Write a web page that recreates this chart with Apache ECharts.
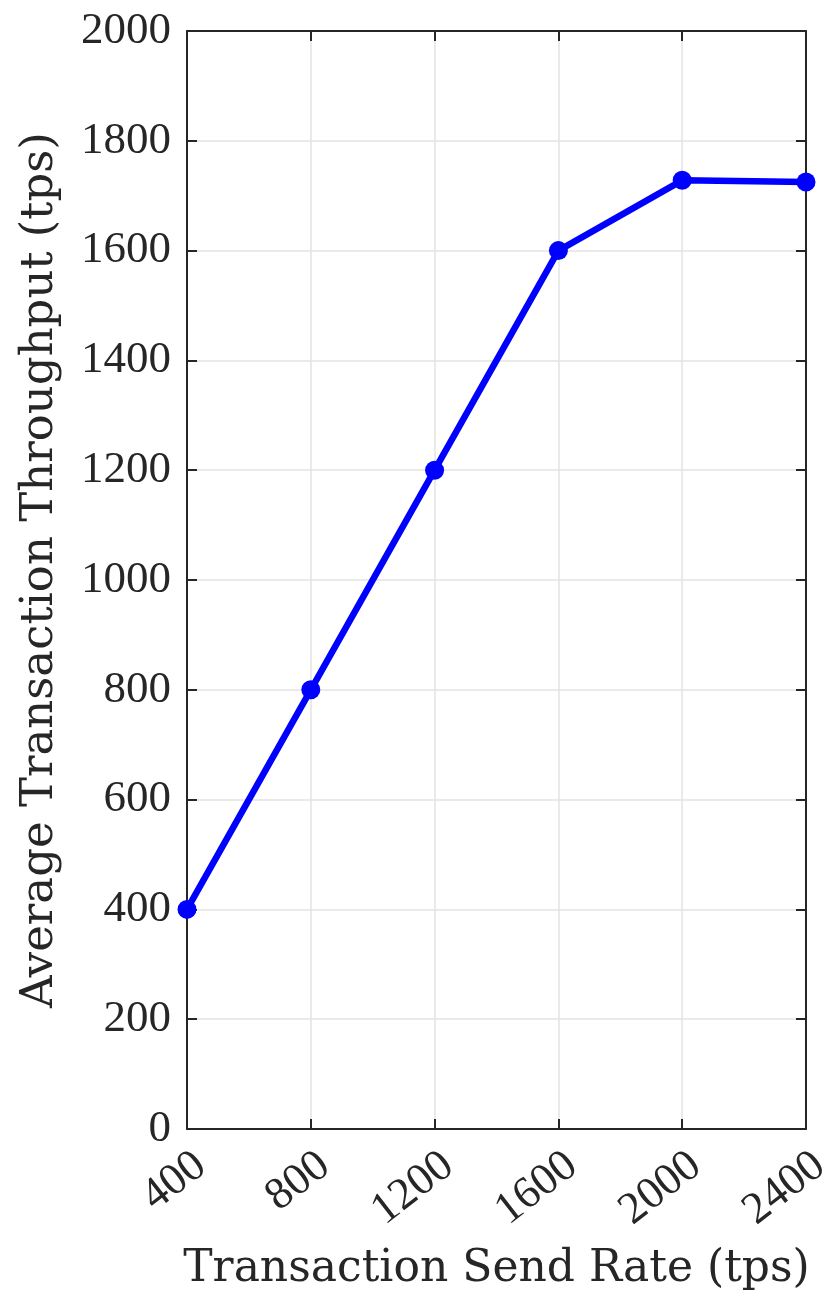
<!DOCTYPE html>
<html>
<head>
<meta charset="utf-8">
<script src="https://cdn.jsdelivr.net/npm/echarts@6/dist/echarts.min.js"></script>
<style>
html,body{margin:0;padding:0;background:#fff;overflow:hidden;}
#chart{width:829px;height:1316px;}
</style>
</head>
<body>
<div id="chart"></div>
<script>
const sendRate = [400, 800, 1200, 1600, 2000, 2400];
const throughput = [400, 800, 1200, 1600, 1728, 1725];
const xTicks = [400, 800, 1200, 1600, 2000, 2400];
const yTicks = [0, 200, 400, 600, 800, 1000, 1200, 1400, 1600, 1800, 2000];

const FONT = '"Liberation Serif", "DejaVu Serif", serif';
const TFONT = '"DejaVu Serif", "Liberation Serif", serif';
const AX = '#262626';
const GRID = '#e3e3e3';

const chart = echarts.init(document.getElementById('chart'), null, {renderer: 'canvas', width: 829, height: 1316});

const common = {
  axisLine: {show: true, onZero: false, lineStyle: {color: AX, width: 2}},
  axisTick: {show: true, inside: true, length: 10, lineStyle: {color: AX, width: 2}},
};
const plain = v => String(v);

chart.setOption({
  backgroundColor: '#fff',
  animation: false,
  grid: {left: 187, right: 23, top: 31, bottom: 187, containLabel: false, outerBoundsMode: 'none'},
  xAxis: [
    Object.assign({
      type: 'value', position: 'bottom',
      min: xTicks[0], max: xTicks[xTicks.length - 1], interval: 400,
      name: 'Transaction Send Rate (tps)', nameLocation: 'middle', nameGap: 119,
      nameTextStyle: {fontFamily: TFONT, fontSize: 44, color: AX},
      axisLabel: {rotate: 38, margin: 14, align: 'right', verticalAlign: 'top',
        fontFamily: FONT, fontSize: 45, color: AX, formatter: plain},
      splitLine: {show: true, lineStyle: {color: GRID, width: 1.5}}
    }, common),
    Object.assign({
      type: 'value', position: 'top',
      min: xTicks[0], max: xTicks[xTicks.length - 1], interval: 400,
      axisLabel: {show: false}, splitLine: {show: false}
    }, common)
  ],
  yAxis: [
    Object.assign({
      type: 'value', position: 'left',
      min: yTicks[0], max: yTicks[yTicks.length - 1], interval: 200,
      name: 'Average Transaction Throughput (tps)', nameLocation: 'middle', nameGap: 124,
      nameTextStyle: {fontFamily: TFONT, fontSize: 45, color: AX, padding: [0, 0, 0, 20]},
      axisLabel: {margin: 16, fontFamily: FONT, fontSize: 45, color: AX, formatter: plain},
      splitLine: {show: true, lineStyle: {color: GRID, width: 1.5}}
    }, common),
    Object.assign({
      type: 'value', position: 'right',
      min: yTicks[0], max: yTicks[yTicks.length - 1], interval: 200,
      axisLabel: {show: false}, splitLine: {show: false}
    }, common)
  ],
  series: [{
    type: 'line',
    xAxisIndex: 0, yAxisIndex: 0,
    data: sendRate.map((x, i) => [x, throughput[i]]),
    symbol: 'circle', symbolSize: 19,
    lineStyle: {color: '#0000ff', width: 6.5},
    itemStyle: {color: '#0000ff'},
    clip: false
  }]
});
</script>
</body>
</html>
